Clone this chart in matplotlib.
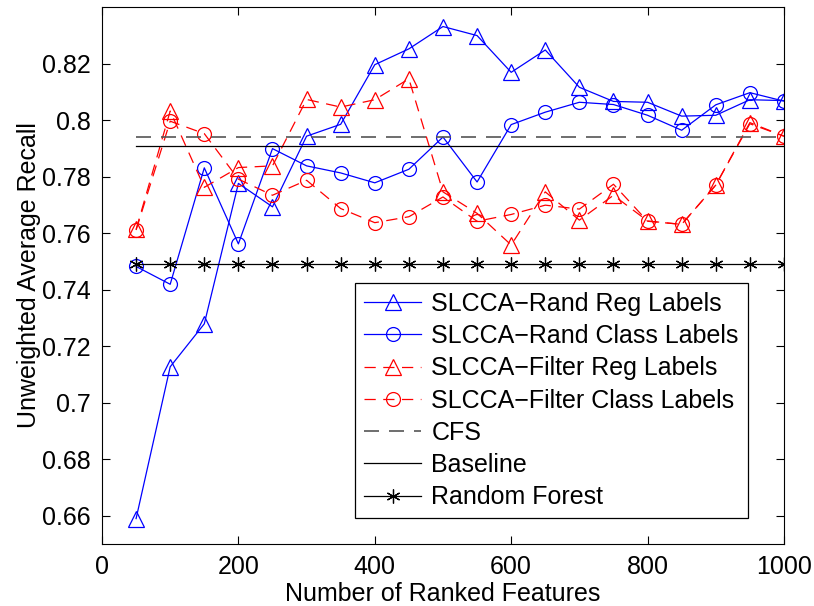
import matplotlib
matplotlib.use("Agg")
import matplotlib.pyplot as plt

plt.rcParams['font.family'] = ['Liberation Sans', 'DejaVu Sans']
plt.rcParams['font.size'] = 18

n_feat = [50, 100, 150, 200, 250, 300, 350, 400, 450, 500,
          550, 600, 650, 700, 750, 800, 850, 900, 950, 1000]

rand_reg = [0.659, 0.7127, 0.7279, 0.7776, 0.7693, 0.7943, 0.7985, 0.8196, 0.8252, 0.8331,
            0.8299, 0.8169, 0.8248, 0.8116, 0.8066, 0.8063, 0.8014, 0.8017, 0.8072, 0.8069]
rand_class = [0.7482, 0.7419, 0.7831, 0.7562, 0.7899, 0.7838, 0.7813, 0.7778, 0.7826, 0.794,
              0.7781, 0.7984, 0.8028, 0.8063, 0.8055, 0.8017, 0.7964, 0.8054, 0.8097, 0.8067]
filt_reg = [0.7613, 0.8032, 0.7762, 0.7832, 0.7838, 0.8073, 0.8046, 0.8072, 0.8146, 0.7746,
            0.767, 0.7558, 0.7746, 0.7646, 0.7734, 0.7643, 0.7631, 0.777, 0.7991, 0.7943]
filt_class = [0.7611, 0.7996, 0.7952, 0.7791, 0.7734, 0.7787, 0.7687, 0.7637, 0.7658, 0.7728,
              0.7642, 0.7666, 0.7699, 0.7685, 0.7773, 0.7642, 0.7631, 0.777, 0.7987, 0.7943]
cfs = 0.794
baseline = 0.791
random_forest = 0.749

fig = plt.figure(figsize=(8.14, 6.06), dpi=100)
ax = fig.add_axes([0.1253, 0.1023, 0.8378, 0.8861])

ax.plot(n_feat, rand_reg, color='blue', lw=0.9, marker='^', ms=11, mfc='none', mew=0.9,
        label='SLCCA\u2212Rand Reg Labels')
ax.plot(n_feat, rand_class, color='blue', lw=0.9, marker='o', ms=10, mfc='none', mew=0.9,
        label='SLCCA\u2212Rand Class Labels')
ax.plot(n_feat, filt_reg, color='red', lw=0.9, ls=(0, (9, 6)), marker='^', ms=11, mfc='none', mew=0.9,
        label='SLCCA\u2212Filter Reg Labels')
ax.plot(n_feat, filt_class, color='red', lw=0.9, ls=(0, (9, 6)), marker='o', ms=10, mfc='none', mew=0.9,
        label='SLCCA\u2212Filter Class Labels')
ax.plot([n_feat[0], n_feat[-1]], [cfs, cfs], color='#555555', lw=1.2, ls=(0, (9, 6)), label='CFS')
ax.plot([n_feat[0], n_feat[-1]], [baseline, baseline], color='black', lw=0.9, label='Baseline')
ax.plot(n_feat, [random_forest] * len(n_feat), color='black', lw=0.9, marker=(6, 2, 0), ms=10, mew=0.9,
        label='Random Forest')

ax.set_xlim(0, 1000)
ax.set_ylim(0.65, 0.84)
ax.set_xticks([0, 200, 400, 600, 800, 1000])
ax.set_yticks([0.66, 0.68, 0.7, 0.72, 0.74, 0.76, 0.78, 0.8, 0.82])
ax.set_yticklabels(['0.66', '0.68', '0.7', '0.72', '0.74', '0.76', '0.78', '0.8', '0.82'])
ax.tick_params(direction='in', top=True, right=True, length=6, width=0.8, pad=8)
ax.set_xlabel('Number of Ranked Features', labelpad=2)
ax.set_ylabel('Unweighted Average Recall', labelpad=1)

leg = ax.legend(loc='lower right', bbox_to_anchor=(0.965, 0.025), numpoints=1, handlelength=2.3,
                fancybox=False, framealpha=1, edgecolor='black', borderpad=0.35,
                labelspacing=0.33, handletextpad=0.4, fontsize=18)
leg.get_frame().set_linewidth(0.9)

fig.savefig('out.png', dpi=100)
